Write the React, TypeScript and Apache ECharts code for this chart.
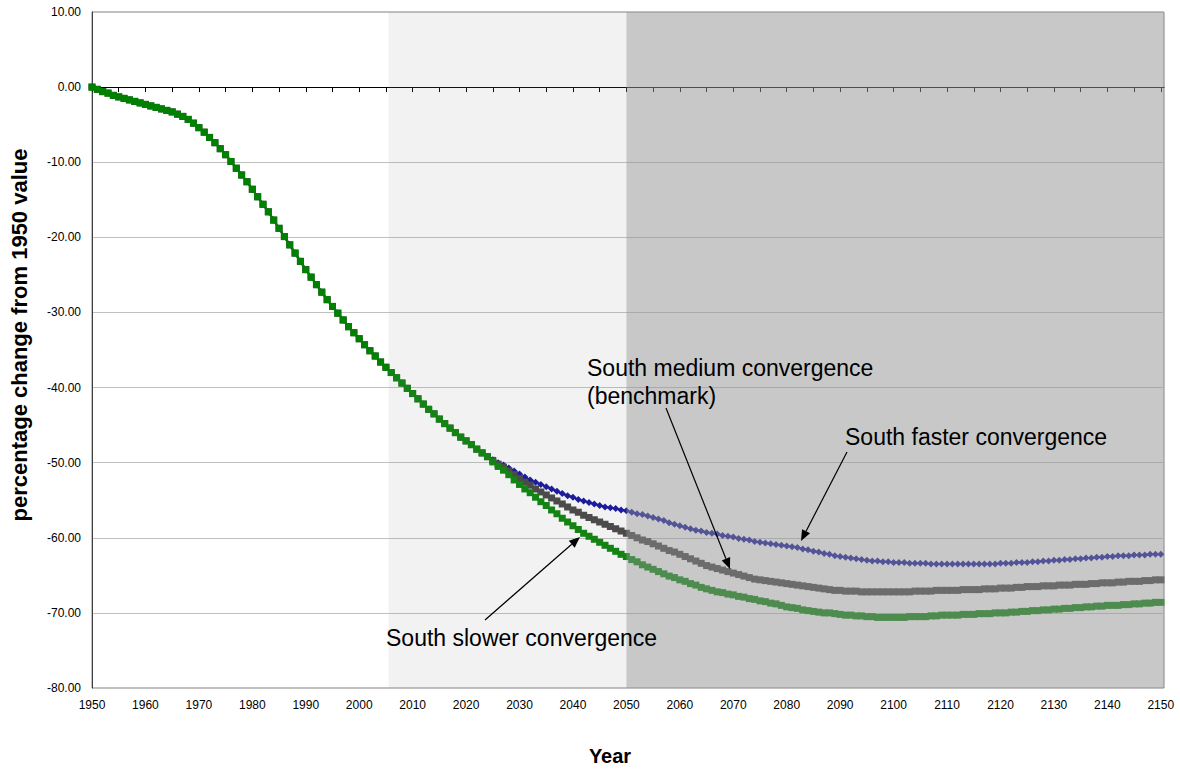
import React, { useEffect, useRef } from "react";
import * as echarts from "echarts";

// Years 1950..2150 (annual)
const startYear = 1950;
const endYear = 2150;
const axisMaxYear = 2150.6;

// Shared history/common path 1950-2024 (all three scenarios coincide)
const commonValues = [
  0.0, -0.3, -0.6, -0.8, -1.1, -1.3, -1.5, -1.7, -1.9, -2.1,
  -2.3, -2.5, -2.7, -2.9, -3.1, -3.3, -3.6, -3.9, -4.3, -4.8,
  -5.4, -6.0, -6.7, -7.4, -8.2, -9.0, -9.9, -10.8, -11.7, -12.6,
  -13.6, -14.6, -15.6, -16.6, -17.7, -18.8, -19.9, -21.0, -22.1, -23.2,
  -24.3, -25.3, -26.3, -27.3, -28.3, -29.2, -30.1, -31.0, -31.9, -32.7,
  -33.5, -34.3, -35.1, -35.8, -36.6, -37.3, -38.0, -38.7, -39.4, -40.1,
  -40.8, -41.5, -42.2, -42.9, -43.5, -44.2, -44.8, -45.4, -46.0, -46.6,
  -47.1, -47.6, -48.2, -48.7, -49.2,
];

// 2025-2150
const fasterTail = [
  -49.6, -50.0, -50.3, -50.7, -51.1, -51.5, -51.9, -52.3, -52.6, -52.9,
  -53.2, -53.5, -53.8, -54.1, -54.4, -54.6, -54.9, -55.1, -55.3, -55.5,
  -55.7, -55.9, -56.0, -56.1, -56.3, -56.4, -56.6, -56.8, -56.9, -57.1,
  -57.3, -57.5, -57.7, -58.0, -58.2, -58.4, -58.6, -58.8, -59.0, -59.1,
  -59.3, -59.4, -59.5, -59.7, -59.8, -59.9, -60.1, -60.2, -60.3, -60.5,
  -60.6, -60.7, -60.8, -60.9, -61.0, -61.1, -61.2, -61.3, -61.5, -61.6,
  -61.8, -61.9, -62.1, -62.2, -62.4, -62.5, -62.6, -62.7, -62.8, -62.9,
  -63.0, -63.1, -63.1, -63.2, -63.2, -63.3, -63.3, -63.3, -63.4, -63.4,
  -63.4, -63.4, -63.5, -63.5, -63.5, -63.5, -63.5, -63.5, -63.5, -63.5,
  -63.5, -63.5, -63.5, -63.5, -63.5, -63.4, -63.4, -63.4, -63.3, -63.3,
  -63.3, -63.2, -63.2, -63.1, -63.1, -63.0, -63.0, -62.9, -62.9, -62.8,
  -62.8, -62.7, -62.7, -62.6, -62.6, -62.5, -62.5, -62.4, -62.4, -62.4,
  -62.3, -62.3, -62.3, -62.2, -62.2, -62.2,
];

const mediumTail = [
  -49.7, -50.2, -50.6, -51.1, -51.6, -52.1, -52.6, -53.0, -53.5, -53.9,
  -54.3, -54.7, -55.1, -55.5, -55.9, -56.3, -56.6, -57.0, -57.3, -57.6,
  -57.9, -58.2, -58.5, -58.8, -59.1, -59.4, -59.7, -60.0, -60.3, -60.5,
  -60.8, -61.1, -61.4, -61.7, -61.9, -62.2, -62.5, -62.8, -63.1, -63.4,
  -63.7, -63.9, -64.1, -64.3, -64.5, -64.7, -64.9, -65.1, -65.3, -65.5,
  -65.6, -65.7, -65.8, -65.9, -66.0, -66.1, -66.2, -66.3, -66.4, -66.5,
  -66.6, -66.7, -66.8, -66.9, -67.0, -67.0, -67.1, -67.1, -67.1, -67.2,
  -67.2, -67.2, -67.2, -67.2, -67.2, -67.2, -67.2, -67.2, -67.2, -67.1,
  -67.1, -67.1, -67.1, -67.0, -67.0, -67.0, -67.0, -67.0, -66.9, -66.9,
  -66.9, -66.9, -66.8, -66.8, -66.8, -66.7, -66.7, -66.7, -66.6, -66.6,
  -66.5, -66.5, -66.5, -66.4, -66.4, -66.4, -66.3, -66.3, -66.3, -66.2,
  -66.2, -66.2, -66.1, -66.1, -66.0, -66.0, -66.0, -65.9, -65.9, -65.8,
  -65.8, -65.8, -65.7, -65.7, -65.6, -65.6,
];

const slowerTail = [
  -49.9, -50.5, -51.0, -51.6, -52.3, -52.9, -53.5, -54.0, -54.6, -55.2,
  -55.7, -56.3, -56.8, -57.4, -57.9, -58.4, -58.9, -59.4, -59.8, -60.2,
  -60.6, -61.0, -61.4, -61.8, -62.2, -62.5, -62.9, -63.2, -63.6, -63.9,
  -64.2, -64.5, -64.8, -65.1, -65.3, -65.6, -65.8, -66.1, -66.3, -66.6,
  -66.8, -67.0, -67.2, -67.3, -67.5, -67.6, -67.8, -67.9, -68.1, -68.2,
  -68.4, -68.5, -68.7, -68.8, -69.0, -69.2, -69.3, -69.4, -69.6, -69.7,
  -69.8, -69.9, -70.0, -70.0, -70.1, -70.2, -70.3, -70.3, -70.4, -70.4,
  -70.5, -70.5, -70.6, -70.6, -70.6, -70.6, -70.6, -70.6, -70.5, -70.5,
  -70.5, -70.5, -70.4, -70.4, -70.3, -70.3, -70.3, -70.3, -70.2, -70.2,
  -70.2, -70.1, -70.1, -70.1, -70.0, -70.0, -70.0, -69.9, -69.9, -69.8,
  -69.8, -69.7, -69.7, -69.6, -69.6, -69.5, -69.5, -69.4, -69.4, -69.3,
  -69.3, -69.2, -69.2, -69.1, -69.1, -69.0, -69.0, -69.0, -68.9, -68.9,
  -68.8, -68.8, -68.7, -68.7, -68.6, -68.6,
];

const seriesNames = [
  "South faster convergence",
  "South medium convergence (benchmark)",
  "South slower convergence",
];

// Shaded periods
const lightBand = [2005.5, 2050];
const darkBand = [2050, axisMaxYear];

const years: number[] = [];
for (let y = startYear; y <= endYear; y++) years.push(y);

const toPairs = (tail: number[]) =>
  years.map((yr, i) => [yr, i < commonValues.length ? commonValues[i] : tail[i - commonValues.length]]);

const FONT = "'Liberation Sans', Arial, sans-serif";

function arrow(x1: number, y1: number, x2: number, y2: number) {
  const dx = x2 - x1;
  const dy = y2 - y1;
  const len = Math.sqrt(dx * dx + dy * dy);
  const ux = dx / len;
  const uy = dy / len;
  const hl = 11;
  const hw = 4.5;
  const bx = x2 - ux * hl;
  const by = y2 - uy * hl;
  return [
    {
      type: "line",
      z: 100,
      shape: { x1, y1, x2: bx, y2: by },
      style: { stroke: "#000", lineWidth: 1.2 },
    },
    {
      type: "polygon",
      z: 100,
      shape: {
        points: [
          [x2, y2],
          [bx - uy * hw, by + ux * hw],
          [bx + uy * hw, by - ux * hw],
        ],
      },
      style: { fill: "#000" },
    },
  ];
}

function label(text: string, x: number, y: number) {
  return {
    type: "text",
    z: 100,
    x,
    y,
    style: {
      text,
      fill: "#000",
      font: `23px ${FONT}`,
      align: "left",
      verticalAlign: "middle",
    },
  };
}

export default function App() {
  const ref = useRef<HTMLDivElement>(null);
  useEffect(() => {
    if (!ref.current) return;
    const chart = echarts.init(ref.current, undefined, { renderer: "svg" });
    chart.setOption({
      animation: false,
      backgroundColor: "#fff",
      grid: {
        left: 88,
        right: 16,
        top: 12,
        bottom: 82,
        show: true,
        borderColor: "#808080",
        borderWidth: 1,
        backgroundColor: "#fff",
      },
      xAxis: {
        type: "value",
        min: 1950,
        max: axisMaxYear,
        interval: 5,
        name: "Year",
        nameLocation: "middle",
        nameGap: 58,
        nameTextStyle: {
          fontFamily: FONT,
          fontSize: 20,
          fontWeight: "bold",
          color: "#000",
          padding: [0, 36, 0, 0],
        },
        axisLine: { show: true, lineStyle: { color: "#000", width: 1 } },
        axisTick: { show: true, length: 5, lineStyle: { color: "#000" } },
        axisLabel: {
          fontFamily: FONT,
          fontSize: 12,
          color: "#000",
          margin: 11,
          showMaxLabel: false,
          formatter: (v: number) => (Math.abs(v % 10) < 1e-6 ? String(v) : ""),
        },
        splitLine: { show: false },
      },
      yAxis: {
        type: "value",
        min: -80,
        max: 10,
        interval: 10,
        name: "percentage change from 1950 value",
        nameLocation: "middle",
        nameGap: 62,
        nameTextStyle: {
          fontFamily: FONT,
          fontSize: 22,
          fontWeight: "bold",
          color: "#000",
          padding: [0, 0, 0, 30],
        },
        axisLine: { show: true, lineStyle: { color: "#404040", width: 1 } },
        axisTick: { show: false },
        axisLabel: {
          fontFamily: FONT,
          fontSize: 12,
          color: "#000",
          margin: 11,
          formatter: (v: number) => v.toFixed(2),
        },
        splitLine: { show: true, lineStyle: { color: "#c0c0c0", width: 1 } },
      },
      series: [
        {
          name: seriesNames[0],
          type: "line",
          data: toPairs(fasterTail),
          symbol: "diamond",
          symbolSize: 7,
          itemStyle: { color: "#0c0c9c" },
          lineStyle: { color: "#0c0c9c", width: 2 },
          z: 2,
        },
        {
          name: seriesNames[1],
          type: "line",
          data: toPairs(mediumTail),
          symbol: "rect",
          symbolSize: 7,
          itemStyle: { color: "#404040" },
          lineStyle: { color: "#404040", width: 2 },
          z: 3,
        },
        {
          name: seriesNames[2],
          type: "line",
          data: toPairs(slowerTail),
          symbol: "rect",
          symbolSize: 7,
          itemStyle: { color: "#008000" },
          lineStyle: { color: "#008000", width: 2 },
          z: 4,
          markArea: {
            silent: true,
            z: 10,
            data: [
              [
                { xAxis: lightBand[0], itemStyle: { color: "rgba(150,150,150,0.124)" } },
                { xAxis: lightBand[1] },
              ],
              [
                { xAxis: darkBand[0], itemStyle: { color: "rgba(150,150,150,0.52)" } },
                { xAxis: darkBand[1] },
              ],
            ],
          },
        },
      ],
      graphic: [
        label("South medium convergence", 587, 368),
        label("(benchmark)", 587, 396),
        label("South faster convergence", 845, 437),
        label("South slower convergence", 386, 638),
        ...arrow(666, 408, 730, 569),
        ...arrow(847, 452, 801, 541),
        ...arrow(485, 620, 580, 537),
      ],
    });
    return () => chart.dispose();
  }, []);
  return <div ref={ref} style={{ width: 1180, height: 771, position: "absolute", left: 0, top: 0 }} />;
}
